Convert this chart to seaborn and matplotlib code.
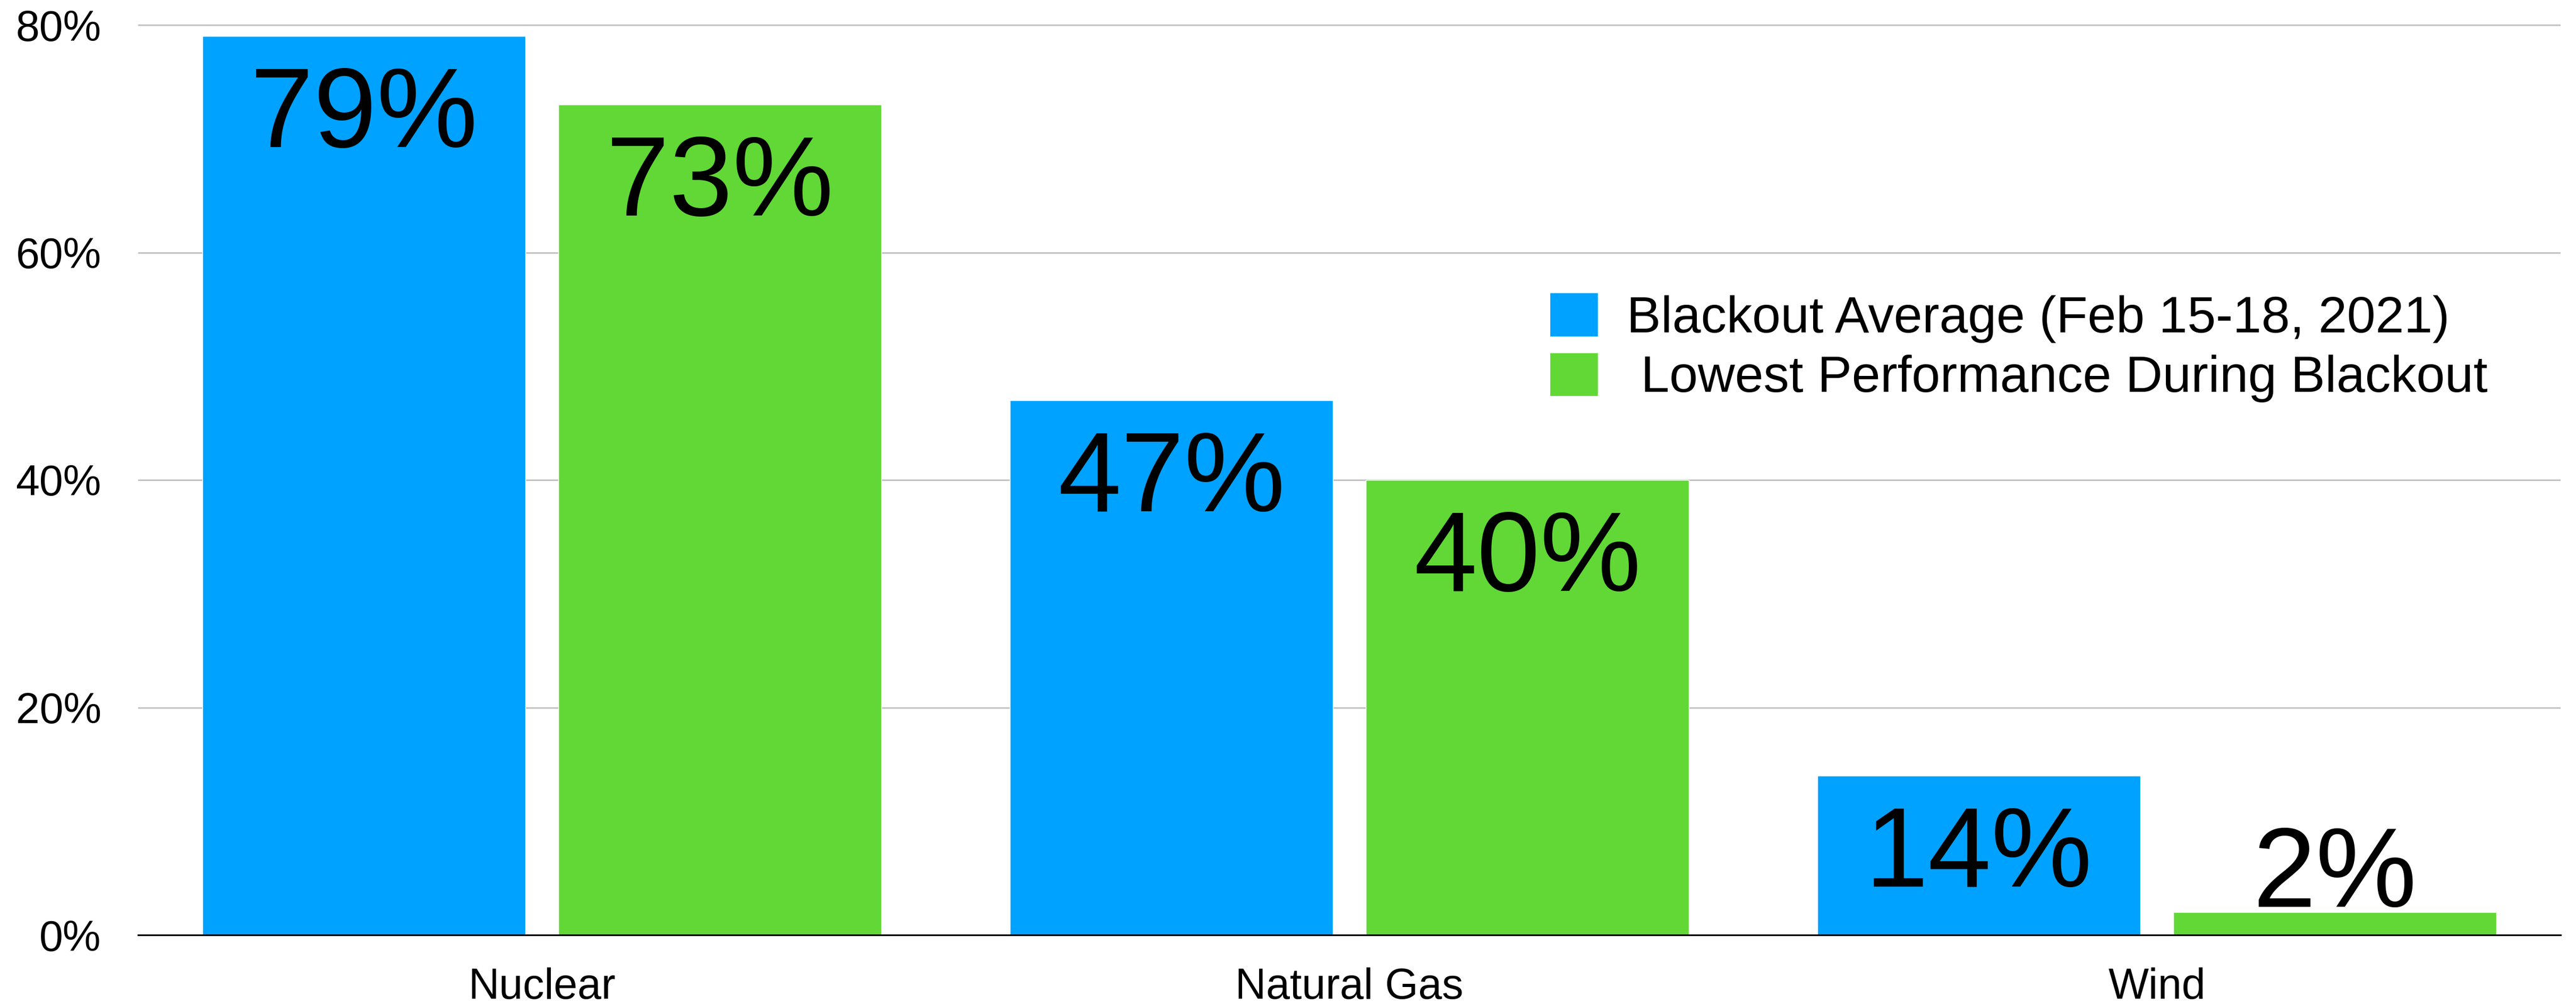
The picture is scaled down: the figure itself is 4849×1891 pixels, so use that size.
import matplotlib
matplotlib.use("Agg")
import matplotlib.pyplot as plt
import seaborn as sns
import pandas as pd

# Capacity factor of Texas generation sources during the February 2021 blackout
sources = ["Nuclear", "Natural Gas", "Wind"]
series_names = ["Blackout Average (Feb 15-18, 2021)", "Lowest Performance During Blackout"]
blackout_average = [79, 47, 14]
lowest_performance = [73, 40, 2]
y_ticks = [0, 20, 40, 60, 80]
y_tick_labels = ["0%", "20%", "40%", "60%", "80%"]

colors = ["#00A2FF", "#61D836"]

df = pd.DataFrame({
    "source": sources * 2,
    "series": [series_names[0]] * 3 + [series_names[1]] * 3,
    "value": blackout_average + lowest_performance,
})

sns.set_theme(style="white")
plt.rcParams["font.family"] = ["Liberation Sans", "DejaVu Sans"]
plt.rcParams["text.color"] = "black"

W, H = 4849, 1891
fig = plt.figure(figsize=(W / 100, H / 100), dpi=100)

# axes box in pixel terms: x from 260 to 4820, 0% at y=1761, 80% at y=47
y0_px, y80_px = 1761, 47
px_per_unit = (y0_px - y80_px) / 80
ytop = 80.3
top_px = y0_px - ytop * px_per_unit
ax = fig.add_axes([260 / W, 1 - y0_px / H, (4820 - 260) / W, (y0_px - top_px) / H])

sns.barplot(data=df, x="source", y="value", hue="series", palette=colors,
            saturation=1, width=0.882, gap=0.093, errorbar=None, ax=ax)

ax.set_xlim(-0.5, 2.5)
ax.set_ylim(0, ytop)
ax.set_yticks(y_ticks)
ax.set_yticklabels(y_tick_labels)
ax.set_xlabel("")
ax.set_ylabel("")

for side in ["top", "right", "left"]:
    ax.spines[side].set_visible(False)
ax.spines["bottom"].set_color("black")
ax.spines["bottom"].set_linewidth(2.3)
ax.spines["bottom"].set_zorder(5)

ax.yaxis.grid(True, color="#C4C4C4", linewidth=2.2)
ax.set_axisbelow(True)
ax.tick_params(axis="y", length=0, pad=50, labelsize=58, colors="black")
ax.tick_params(axis="x", length=0, pad=44, labelsize=58, colors="black")

# value labels: inside the top of the bar, or just above when the bar is short
for container, values in zip(ax.containers, [blackout_average, lowest_performance]):
    for patch, v in zip(container.patches, values):
        xc = patch.get_x() + patch.get_width() / 2
        if v >= 10:
            offset = -150.5
        else:
            offset = 7
        ax.annotate(f"{v}%", xy=(xc, v), xytext=(0, offset), textcoords="offset points",
                    ha="center", va="baseline", fontsize=154, color="black",
                    annotation_clip=False)

handles, _ = ax.get_legend_handles_labels()
legend_labels = [series_names[0], " " + series_names[1]]
ax.legend(handles, legend_labels, loc="upper left",
          bbox_to_anchor=(2917 / W, 1 - 551 / H), bbox_transform=fig.transFigure,
          frameon=False, fontsize=69.5, borderpad=0, borderaxespad=0, labelcolor="black",
          handlelength=0.94, handleheight=0.94, handletextpad=0.56, labelspacing=0.19)

fig.savefig("out.png", dpi=100, facecolor="white")
